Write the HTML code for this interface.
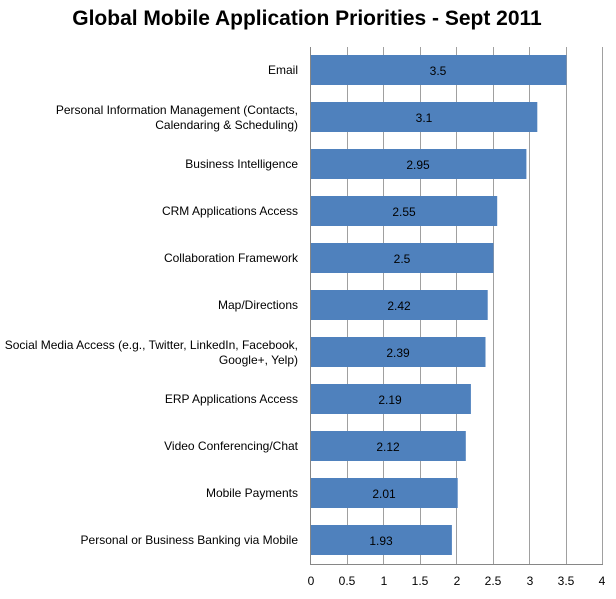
<!DOCTYPE html>
<html><head><style>
body{margin:0;background:#fff;}
svg text{font-family:"Liberation Sans",sans-serif;}
</style></head><body>
<svg width="616" height="594" xmlns="http://www.w3.org/2000/svg">
<rect width="616" height="594" fill="#fff"/>
<text x="307" y="25" text-anchor="middle" font-size="21" font-weight="bold" fill="#000">Global Mobile Application Priorities - Sept 2011</text>
<g stroke="#a0a0a0" stroke-width="1">
<line x1="347.5" y1="47" x2="347.5" y2="564"/>
<line x1="383.5" y1="47" x2="383.5" y2="564"/>
<line x1="420.5" y1="47" x2="420.5" y2="564"/>
<line x1="456.5" y1="47" x2="456.5" y2="564"/>
<line x1="493.5" y1="47" x2="493.5" y2="564"/>
<line x1="529.5" y1="47" x2="529.5" y2="564"/>
<line x1="566.5" y1="47" x2="566.5" y2="564"/>
<line x1="602.5" y1="47" x2="602.5" y2="564"/>
</g>
<g fill="#4f81bd">
<rect x="311" y="55" width="255.5" height="30"/>
<rect x="311" y="102" width="226.3" height="30"/>
<rect x="311" y="149" width="215.4" height="30"/>
<rect x="311" y="196" width="186.2" height="30"/>
<rect x="311" y="243" width="182.5" height="30"/>
<rect x="311" y="290" width="176.7" height="30"/>
<rect x="311" y="337" width="174.5" height="30"/>
<rect x="311" y="384" width="159.9" height="30"/>
<rect x="311" y="431" width="154.8" height="30"/>
<rect x="311" y="478" width="146.7" height="30"/>
<rect x="311" y="525" width="140.9" height="30"/>
</g>
<line x1="310.5" y1="47" x2="310.5" y2="564" stroke="#868686"/>
<line x1="310" y1="564.5" x2="603" y2="564.5" stroke="#868686"/>
<g font-size="12" fill="#000" text-anchor="middle">
<text x="438" y="75">3.5</text>
<text x="424" y="122">3.1</text>
<text x="418" y="169">2.95</text>
<text x="404" y="216">2.55</text>
<text x="402" y="263">2.5</text>
<text x="399" y="310">2.42</text>
<text x="398" y="357">2.39</text>
<text x="390" y="404">2.19</text>
<text x="388" y="451">2.12</text>
<text x="384" y="498">2.01</text>
<text x="381" y="545">1.93</text>
</g>
<g font-size="12" fill="#000" text-anchor="end">
<text x="298" y="74">Email</text>
<text x="298" y="114">Personal Information Management (Contacts,</text>
<text x="298" y="129">Calendaring &amp; Scheduling)</text>
<text x="298" y="168">Business Intelligence</text>
<text x="298" y="215">CRM Applications Access</text>
<text x="298" y="262">Collaboration Framework</text>
<text x="298" y="309">Map/Directions</text>
<text x="298" y="349">Social Media Access (e.g., Twitter, LinkedIn, Facebook,</text>
<text x="298" y="364">Google+, Yelp)</text>
<text x="298" y="403">ERP Applications Access</text>
<text x="298" y="450">Video Conferencing/Chat</text>
<text x="298" y="497">Mobile Payments</text>
<text x="298" y="544">Personal or Business Banking via Mobile</text>
</g>
<g font-size="12" fill="#000" text-anchor="middle">
<text x="311" y="585">0</text>
<text x="347" y="585">0.5</text>
<text x="384" y="585">1</text>
<text x="420" y="585">1.5</text>
<text x="457" y="585">2</text>
<text x="493" y="585">2.5</text>
<text x="530" y="585">3</text>
<text x="566" y="585">3.5</text>
<text x="602" y="585">4</text>
</g>
</svg>
</body></html>
